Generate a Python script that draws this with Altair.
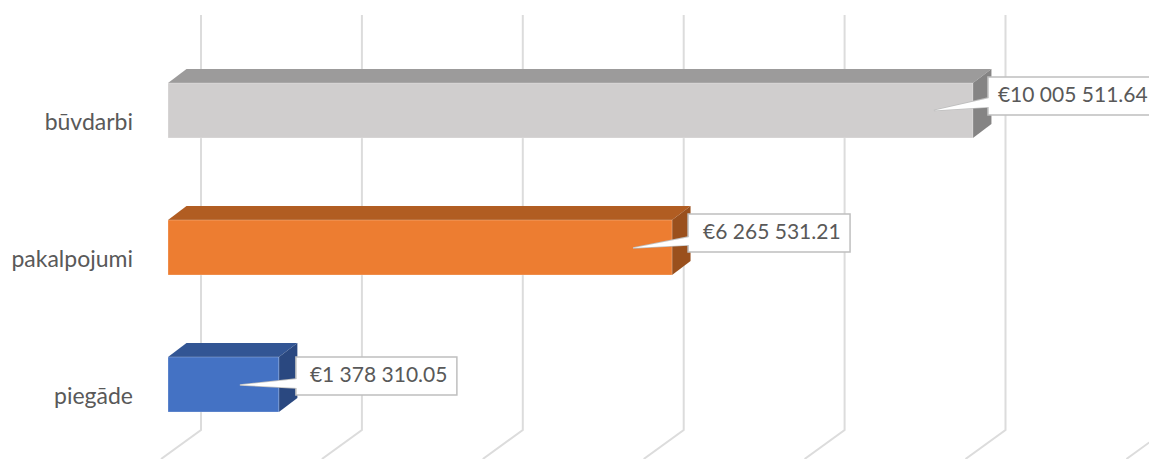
import altair as alt
import pandas as pd

categories = ["piegāde", "pakalpojumi", "būvdarbi"]
values = [1378310.05, 6265531.21, 10005511.64]
value_labels = ["€1 378 310.05", "€6 265 531.21", "€10 005 511.64"]
front_colors = ["#4472c4", "#ed7d31", "#d0cece"]
top_colors = ["#325594", "#b15d22", "#9c9b9b"]
side_colors = ["#2a4880", "#9a501d", "#858484"]
grid_ticks = [0, 2000000, 4000000, 6000000, 8000000, 10000000, 12000000]
positions = [0, 1, 2]

W, H = 1141, 451
PX_PER_UNIT = 80.45 / 1e6      # horizontal scale
PX_PER_POS = 137.0             # vertical scale, one category slot
X0, Y0 = 168 - 8, 384.5 - 8    # where value 0 / category 0 fall inside the plot


def ux(px):
    return px / PX_PER_UNIT


def uy(px):
    return px / PX_PER_POS


x_scale = alt.Scale(domain=[ux(-X0), ux(W - X0)], nice=False, zero=False)
y_scale = alt.Scale(domain=[uy(Y0 - H), uy(Y0)], nice=False, zero=False)
X = lambda f: alt.X(f, type="quantitative", scale=x_scale, axis=None)
Y = lambda f: alt.Y(f, type="quantitative", scale=y_scale, axis=None)

HALF = uy(27.5)
DX, DY = ux(18.5), uy(14)
WALL = ux(33)

# gridlines: back wall + floor
grid_rows = []
for t in grid_ticks:
    gx = t + WALL
    grid_rows += [
        dict(t=t, i=0, x=gx, y=uy(384.5 - 15)),
        dict(t=t, i=1, x=gx, y=uy(384.5 - 430)),
        dict(t=t, i=2, x=gx - ux(40), y=uy(384.5 - 459)),
    ]
grid = alt.Chart(pd.DataFrame(grid_rows)).mark_line(
    color="#dcdcdc", strokeWidth=2, clip=True
).encode(x=X("x"), y=Y("y"), detail="t:N", order="i:Q")

bars = pd.DataFrame(dict(cat=categories, v=values, p=positions, front=front_colors))
bars["y1"] = bars.p - HALF
bars["y2"] = bars.p + HALF
bars["zero"] = 0.0
front = alt.Chart(bars).mark_rect(stroke="#ffffff", strokeOpacity=0.25, strokeWidth=1).encode(
    x=X("zero"), x2="v:Q", y=Y("y1"), y2="y2:Q",
    color=alt.Color("front:N", scale=None),
)

top_rows, side_rows = [], []
for v, p, tc, sc in zip(values, positions, top_colors, side_colors):
    top_rows += [
        dict(c=tc, y=p + HALF, a=0.0, b=v),
        dict(c=tc, y=p + HALF + DY, a=DX, b=v + DX),
    ]
    side_rows += [
        dict(c=sc, x=v, lo=p - HALF, hi=p + HALF),
        dict(c=sc, x=v + DX, lo=p - HALF + DY, hi=p + HALF + DY),
    ]
top = alt.Chart(pd.DataFrame(top_rows)).mark_area(orient="horizontal").encode(
    y=Y("y"), x=X("a"), x2="b:Q", color=alt.Color("c:N", scale=None)
)
side = alt.Chart(pd.DataFrame(side_rows)).mark_area(orient="vertical").encode(
    x=X("x"), y=Y("lo"), y2="hi:Q", color=alt.Color("c:N", scale=None)
)

# category labels
cat_df = pd.DataFrame(dict(cat=categories, p=positions))
cat_df["x"] = ux(133 - 168)
cat_df["y"] = cat_df.p - uy(12)
cat_text = alt.Chart(cat_df).mark_text(
    align="right", baseline="middle", font="Lato", fontSize=23, color="#595959"
).encode(x=X("x"), y=Y("y"), text="cat:N")

# callouts (offsets in screen px relative to each bar's end and centre)
box_gap = [17, 16, 15]
box_w = [161, 162, 176]
box_top = [27.5, 33.5, 33.5]
box_h = 38
base_top = [5.5, 10.5, 12.5]
base_bot = [-3.5, 2.5, 3.5]
tip_dx = [-39, -39, -39]
tip_dy = [-0.5, -0.5, 0]
text_dx = [14, 15, 10]

box_rows, tri_rows, edge_rows, txt_rows = [], [], [], []
for i, (v, p, lab) in enumerate(zip(values, positions, value_labels)):
    left = v + ux(box_gap[i])
    right = left + ux(box_w[i])
    yt = p + uy(box_top[i])
    yb = yt - uy(box_h)
    box_rows.append(dict(l=left, r=right, t=yt, b=yb))
    tip = (v + ux(tip_dx[i]), p + uy(tip_dy[i]))
    bt = p + uy(base_top[i])
    bb = p + uy(base_bot[i])
    inner = left + ux(1.5)
    tri_rows += [
        dict(k=i, x=tip[0], lo=tip[1], hi=tip[1]),
        dict(k=i, x=inner, lo=bb, hi=bt),
    ]
    edge_rows += [
        dict(k=i, i=0, x=left, y=bt),
        dict(k=i, i=1, x=tip[0], y=tip[1]),
        dict(k=i, i=2, x=left, y=bb),
    ]
    txt_rows.append(dict(x=left + ux(text_dx[i]), y=(yt + yb) / 2, lab=lab))

box = alt.Chart(pd.DataFrame(box_rows)).mark_rect(
    fill="#ffffff", stroke="#bfbfbf", strokeWidth=1.5, clip=True
).encode(x=X("l"), x2="r:Q", y=Y("b"), y2="t:Q")
tri = alt.Chart(pd.DataFrame(tri_rows)).mark_area(
    orient="vertical", color="#ffffff", opacity=1
).encode(x=X("x"), y=Y("lo"), y2="hi:Q", detail="k:N")
edges = alt.Chart(pd.DataFrame(edge_rows)).mark_line(
    color="#bfbfbf", strokeWidth=1.5
).encode(x=X("x"), y=Y("y"), detail="k:N", order="i:Q")
txt = alt.Chart(pd.DataFrame(txt_rows)).mark_text(
    align="left", baseline="middle", font="Lato", fontSize=21, color="#595959"
).encode(x=X("x"), y=Y("y"), text="lab:N")

chart = alt.layer(grid, top, side, front, cat_text, edges, box, tri, txt).properties(
    width=W, height=H, padding=0,
    autosize=alt.AutoSizeParams(type="none"),
).configure_view(stroke=None)

chart.save("out.html", embed_options={"renderer": "svg", "actions": False})
